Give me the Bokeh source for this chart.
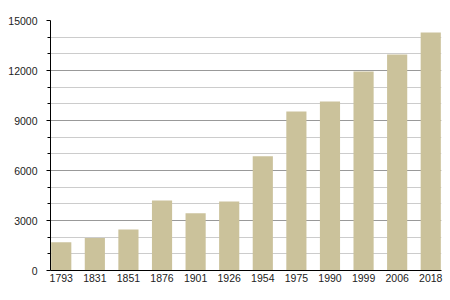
from bokeh.plotting import figure
from bokeh.models import FixedTicker, Range1d, ColumnDataSource
from bokeh.embed import file_html
from bokeh.resources import INLINE

years = ["1793", "1831", "1851", "1876", "1901", "1926", "1954", "1975", "1990", "1999", "2006", "2018"]
population = [1690, 1950, 2460, 4200, 3440, 4140, 6860, 9540, 10140, 11940, 12960, 14280]
y_ticks = [0, 3000, 6000, 9000, 12000, 15000]
y_minor = [1000, 2000, 4000, 5000, 7000, 8000, 10000, 11000, 13000, 14000]

xs = list(range(len(years)))
src = ColumnDataSource(dict(x=xs, top=population))

p = figure(width=450, height=300, output_backend="svg", toolbar_location=None,
           x_range=Range1d(-0.32, len(years) - 1 + 0.32), y_range=Range1d(0, 15000),
           min_border_left=50, min_border_right=9, min_border_top=20, min_border_bottom=30)
p.outline_line_color = None
p.background_fill_color = "white"
p.border_fill_color = "white"

p.vbar(x="x", top="top", width=0.6, bottom=0, source=src,
       fill_color="#cbc29b", line_color=None)

p.xgrid.grid_line_color = None
p.ygrid.ticker = FixedTicker(ticks=y_ticks, minor_ticks=y_minor)
p.ygrid.grid_line_color = "#999999"
p.ygrid.minor_grid_line_color = "#cccccc"
p.ygrid.level = "underlay"

p.yaxis.ticker = FixedTicker(ticks=y_ticks, minor_ticks=y_minor)
p.yaxis.major_tick_in = 0
p.yaxis.major_tick_out = 4
p.yaxis.minor_tick_in = 0
p.yaxis.minor_tick_out = 3
p.yaxis.axis_line_color = "black"
p.yaxis.major_tick_line_color = "black"
p.yaxis.minor_tick_line_color = "black"
p.yaxis.major_label_standoff = 9
p.yaxis.major_label_text_font = "Liberation Sans"
p.yaxis.major_label_text_font_size = "10.5px"
p.yaxis.major_label_text_color = "#222222"

p.xaxis.ticker = FixedTicker(ticks=xs)
p.xaxis.major_label_overrides = {i: y for i, y in zip(xs, years)}
p.xaxis.major_tick_line_color = None
p.xaxis.minor_tick_line_color = None
p.xaxis.major_tick_in = 0
p.xaxis.major_tick_out = 0
p.xaxis.axis_line_color = "black"
p.xaxis.major_label_standoff = 3
p.xaxis.major_label_text_font = "Liberation Sans"
p.xaxis.major_label_text_font_size = "10.5px"
p.xaxis.major_label_text_color = "#222222"

open("out.html", "w").write(file_html(p, INLINE))
